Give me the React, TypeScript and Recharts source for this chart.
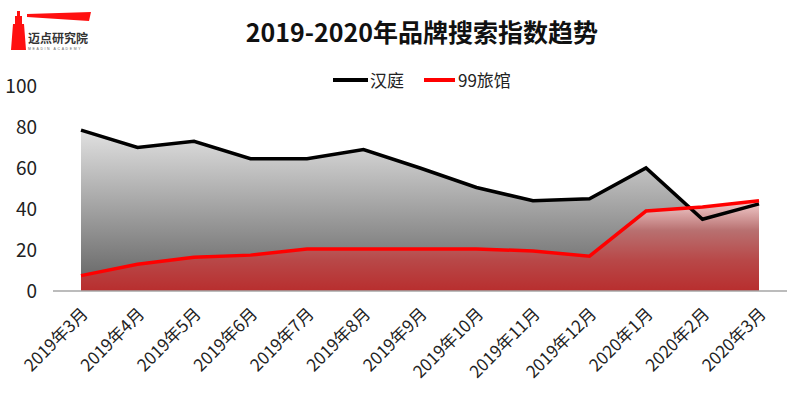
import React from 'react';
import { ComposedChart, Area, Line, XAxis, YAxis } from 'recharts';

const months = ['2019年3月', '2019年4月', '2019年5月', '2019年6月', '2019年7月', '2019年8月', '2019年9月', '2019年10月', '2019年11月', '2019年12月', '2020年1月', '2020年2月', '2020年3月'];
const hanting = [78.5, 70, 73, 64.5, 64.5, 69, 60, 50.5, 44, 45, 60, 35, 42.5];
const lvguan = [7.5, 13, 16.5, 17.5, 20.5, 20.5, 20.5, 20.5, 19.5, 17, 39, 41, 44];
const yTicks = [0, 20, 40, 60, 80, 100];
const seriesNames = ['汉庭', '99旅馆'];

const data = months.map((m, i) => ({ month: m, a: hanting[i], b: lvguan[i] }));

const FONT = '"Noto Sans CJK SC", "Noto Sans", sans-serif';

const XTick = (props: any) => {
  const { x, y, payload } = props;
  return (
    <g transform={`translate(${x + 8},${y + 16})`}>
      <text x={0} y={0} textAnchor="end" transform="rotate(-45)" fontSize={17} fill="#222" fontFamily={FONT}>
        {payload.value}
      </text>
    </g>
  );
};

const LegendBox = () => (
  <div style={{ position: 'absolute', left: 333, top: 68, display: 'flex', alignItems: 'center', fontFamily: FONT, fontSize: 17, color: '#222', lineHeight: '24px' }}>
    <span style={{ display: 'inline-block', width: 35, height: 4, background: '#000', marginRight: 2 }} />
    <span style={{ marginRight: 20 }}>{seriesNames[0]}</span>
    <span style={{ display: 'inline-block', width: 31, height: 4, background: '#ff0000', marginRight: 3 }} />
    <span>{seriesNames[1]}</span>
  </div>
);

const Logo = () => (
  <svg width={110} height={56} style={{ position: 'absolute', left: 0, top: 0 }}>
    <polygon points="17,11 20,11 20,16 22,16 22,24 24,24 26,50 11,50 13,24 15,24 15,16 17,16" fill="#ff1010" />
    <polygon points="27,14 91,12 89,21 27,17" fill="#ff1010" />
    <text x={28} y={43} fontSize={12} fontWeight="bold" fill="#333" fontFamily={FONT}>迈点研究院</text>
    <text x={28} y={50} fontSize={3.5} fill="#666" fontFamily="sans-serif" letterSpacing={1.6}>MEADIN ACADEMY</text>
  </svg>
);

export default function App() {
  return (
    <div style={{ position: 'absolute', left: 0, top: 0, width: 800, height: 398, background: '#fff', overflow: 'hidden' }}>
      <ComposedChart width={800} height={398} data={data} margin={{ top: 86, right: 13, bottom: 7, left: 8 }}>
        <defs>
          <linearGradient id="grayFill" x1="0" y1="0" x2="0" y2="1">
            <stop offset="0" stopColor="#e1e1e1" />
            <stop offset="1" stopColor="#606060" />
          </linearGradient>
          <linearGradient id="redFill" x1="0" y1="0" x2="0" y2="1">
            <stop offset="0" stopColor="#f4d0d0" />
            <stop offset="0.33" stopColor="#b87070" />
            <stop offset="0.66" stopColor="#b84848" />
            <stop offset="1" stopColor="#b82e2e" />
          </linearGradient>
        </defs>
        <XAxis dataKey="month" interval={0} tickLine={false} padding={{ left: 28, right: 28 }}
          axisLine={{ stroke: '#a6a6a6', strokeWidth: 1.5 }} height={100} tick={<XTick />} />
        <YAxis domain={[0, 100]} ticks={yTicks} width={45} axisLine={false} tickLine={false} tickSize={6} tickMargin={10}
          tick={{ fontSize: 19, fill: '#222', fontFamily: FONT }} />
        <Area type="linear" dataKey="a" stroke="none" fill="url(#grayFill)" fillOpacity={1} isAnimationActive={false} legendType="none" />
        <Area type="linear" dataKey="b" stroke="none" fill="url(#redFill)" fillOpacity={1} isAnimationActive={false} legendType="none" />
        <Line type="linear" dataKey="a" name={seriesNames[0]} stroke="#000" strokeWidth={3.5} dot={false} isAnimationActive={false} />
        <Line type="linear" dataKey="b" name={seriesNames[1]} stroke="#ff0000" strokeWidth={3.5} dot={false} isAnimationActive={false} />
      </ComposedChart>
      <Logo />
      <div style={{ position: 'absolute', left: 0, top: 13, width: 844, textAlign: 'center', fontFamily: FONT, fontWeight: 'bold', fontSize: 25, color: '#111', lineHeight: '36px' }}>
        2019-2020年品牌搜索指数趋势
      </div>
      <LegendBox />
    </div>
  );
}
